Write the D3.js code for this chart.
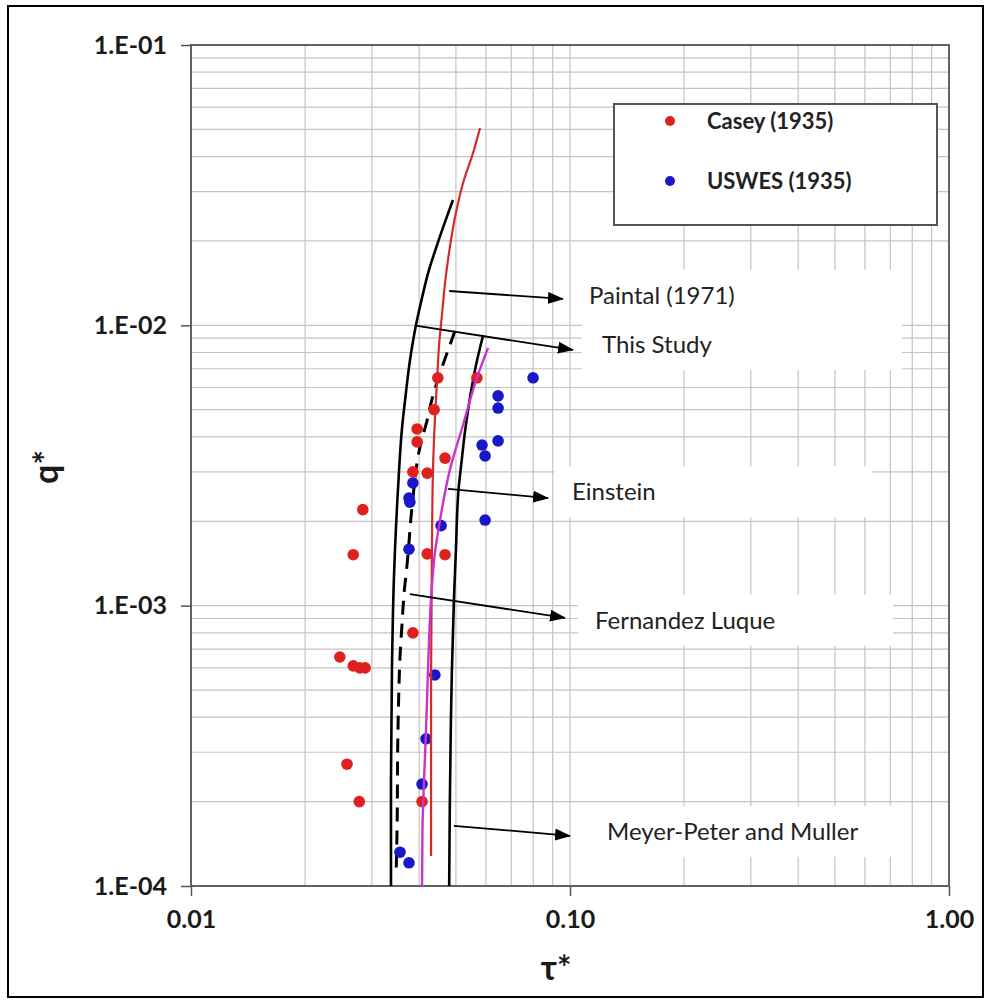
<!DOCTYPE html>
<html><head><meta charset="utf-8">
<script src="https://cdn.jsdelivr.net/npm/d3@7"></script>
<style>html,body{margin:0;padding:0;background:#fff;}svg{display:block;}</style>
</head><body>
<script>
// ---- data ----
const tauTicks = [0.01, 0.1, 1];
const tauTickLabels = ["0.01", "0.10", "1.00"];
const qTicks = [1e-4, 1e-3, 1e-2, 1e-1];
const qTickLabels = ["1.E-04", "1.E-03", "1.E-02", "1.E-01"];

const caseyTau = [0.0568,0.0448,0.0438,0.0395,0.0395,0.0468,0.0385,0.0420,0.0284,0.0268,0.0420,0.0468,0.0385,0.0247,0.0268,0.0279,0.0288,0.0258,0.0278,0.0407];
const caseyQ   = [6.5e-3,6.5e-3,5.0e-3,4.27e-3,3.84e-3,3.36e-3,3.0e-3,2.97e-3,2.2e-3,1.52e-3,1.53e-3,1.52e-3,8.0e-4,6.56e-4,6.1e-4,6.0e-4,6.0e-4,2.72e-4,2.0e-4,2.0e-4];

const uswesTau = [0.0799,0.0646,0.0646,0.0646,0.0586,0.0597,0.0597,0.0457,0.0385,0.0376,0.0378,0.0376,0.0440,0.0417,0.0407,0.0356,0.0376];
const uswesQ   = [6.5e-3,5.6e-3,5.07e-3,3.87e-3,3.74e-3,3.42e-3,2.02e-3,1.93e-3,2.74e-3,2.42e-3,2.34e-3,1.59e-3,5.66e-4,3.35e-4,2.31e-4,1.32e-4,1.21e-4];

const paintalTau = [0.0579,0.0553,0.0525,0.0500,0.0482,0.0469,0.0460,0.0451,0.0446,0.0441,0.0435,0.0432,0.0430,0.0430];
const paintalQ   = [0.0506,0.0406,0.0330,0.0252,0.0190,0.0145,0.0111,0.00837,0.00639,0.00487,0.00305,0.00146,4.61e-4,1.28e-4];

const studyTau = [0.0491,0.0468,0.0446,0.04246,0.04069,0.03923,0.03783,0.0368,0.0360,0.0354,0.0350,0.0343,0.0339,0.0337,0.0337];
const studyQ   = [0.0280,0.02338,0.01936,0.01576,0.01252,0.01003,0.00752,0.00555,0.00423,0.00305,0.00232,0.00124,5.9e-4,2.39e-4,1.0e-4];

const mpmTau = [0.0590,0.0565,0.0545,0.0529,0.0517,0.0508,0.0500,0.0494,0.0488,0.0485,0.0482,0.0480];
const mpmQ   = [0.00924,0.00722,0.00555,0.00423,0.00323,0.00259,0.00158,0.00105,5.9e-4,3.91e-4,2.03e-4,1.0e-4];

const flTau = [0.0497,0.0477,0.0454,0.0432,0.0420,0.0402,0.0383,0.0372,0.0365,0.0360,0.0356,0.0353,0.0351,0.0350,0.0348];
const flQ   = [0.00955,0.00817,0.00676,0.00542,0.0046,0.00368,0.00225,0.00142,0.00111,8.4e-4,6.56e-4,4.61e-4,3.06e-4,1.72e-4,1.16e-4];

const einTau = [0.0608,0.0568,0.0522,0.0482,0.0454,0.0440,0.0432,0.0427,0.0422,0.0417,0.0412,0.0408,0.0407];
const einQ   = [0.00831,0.00649,0.00441,0.00305,0.00202,0.00154,0.00117,8.89e-4,5.9e-4,3.6e-4,2.39e-4,1.58e-4,1.0e-4];

const annLabels  = ["Paintal (1971)", "This Study", "Einstein", "Fernandez Luque", "Meyer-Peter and Muller"];
const annFromTau = [0.0480, 0.0395, 0.0477, 0.0378, 0.0494];
const annFromQ   = [0.01326, 0.00995, 0.00261, 0.0011, 1.64e-4];
const annToTau   = [0.0958, 0.1018, 0.0875, 0.0970, 0.1000];
const annToQ     = [0.01242, 0.00817, 0.00242, 9.04e-4, 1.51e-4];

const seriesNames = ["Casey (1935)", "USWES (1935)"];

// ---- layout ----
const W = 986, H = 1001;
const M = {left: 191, right: 949, top: 45, bottom: 886};
const FONT = "Lato, 'Open Sans', sans-serif";
const svg = d3.select("body").append("svg").attr("width", W).attr("height", H);

svg.append("rect").attr("x", 8).attr("y", 6).attr("width", 975).attr("height", 991)
  .attr("fill", "#fff").attr("stroke", "#000").attr("stroke-width", 2);

const x = d3.scaleLog().domain([0.01, 1]).range([M.left, M.right]);
const y = d3.scaleLog().domain([1e-4, 1e-1]).range([M.bottom, M.top]);

const defs = svg.append("defs");
defs.append("marker").attr("id", "arr").attr("markerUnits", "userSpaceOnUse")
  .attr("markerWidth", 16).attr("markerHeight", 12).attr("refX", 15).attr("refY", 6)
  .attr("orient", "auto")
  .append("path").attr("d", "M0,0 L16,6 L0,12 Z").attr("fill", "#000");

// grid
const g = svg.append("g");
g.selectAll("line.vx").data(x.ticks()).join("line")
  .attr("x1", d => x(d)).attr("x2", d => x(d)).attr("y1", M.top).attr("y2", M.bottom)
  .attr("stroke", "#c4c4c4").attr("stroke-width", 1.2);
g.selectAll("line.hy").data(y.ticks()).join("line")
  .attr("y1", d => y(d)).attr("y2", d => y(d)).attr("x1", M.left).attr("x2", M.right)
  .attr("stroke", "#c4c4c4").attr("stroke-width", 1.2);

// axes
const xAxis = d3.axisBottom(x).tickValues(tauTicks).tickFormat((d, i) => tauTickLabels[i]).tickSize(10).tickPadding(14);
const yAxis = d3.axisLeft(y).tickValues(qTicks).tickFormat((d, i) => qTickLabels[i]).tickSize(10).tickPadding(14);
const gx = svg.append("g").attr("transform", `translate(0,${M.bottom})`).call(xAxis);
const gy = svg.append("g").attr("transform", `translate(${M.left},0)`).call(yAxis);
[gx, gy].forEach(a => {
  a.select(".domain").remove();
  a.selectAll(".tick line").attr("stroke", "#555").attr("stroke-width", 1.5);
  a.selectAll("text").attr("font-family", FONT)
    .attr("font-weight", 700).attr("font-size", 25).attr("fill", "#1a1a1a");
});
gx.selectAll("text").attr("dy", "0.71em");
svg.append("rect").attr("x", M.left).attr("y", M.top)
  .attr("width", M.right - M.left).attr("height", M.bottom - M.top)
  .attr("fill", "none").attr("stroke", "#555").attr("stroke-width", 1.8);

// axis titles
svg.append("text").attr("x", 556).attr("y", 980).attr("text-anchor", "middle")
  .attr("font-family", FONT).attr("font-weight", 700)
  .attr("font-size", 34).attr("fill", "#1a1a1a").text("τ*");
svg.append("text").attr("transform", "translate(58,467) rotate(-90)").attr("text-anchor", "middle")
  .attr("font-family", FONT).attr("font-weight", 700)
  .attr("font-size", 34).attr("fill", "#1a1a1a").text("q*");

// curves
const line = d3.line().x(d => x(d[0])).y(d => y(d[1])).curve(d3.curveMonotoneY);
const zip = (a, b) => a.map((v, i) => [v, b[i]]);
const curves = [
  {pts: zip(studyTau, studyQ), color: "#000", w: 2.6, dash: null},
  {pts: zip(mpmTau, mpmQ), color: "#000", w: 2.6, dash: null},
  {pts: zip(flTau, flQ), color: "#000", w: 3, dash: "14,9"},
];
const cg = svg.append("g");
curves.forEach(c => {
  cg.append("path").attr("d", line(c.pts)).attr("fill", "none")
    .attr("stroke", c.color).attr("stroke-width", c.w).attr("stroke-dasharray", c.dash);
});

// points
const pg = svg.append("g");
pg.selectAll("circle.casey").data(zip(caseyTau, caseyQ)).join("circle")
  .attr("cx", d => x(d[0])).attr("cy", d => y(d[1])).attr("r", 5.8).attr("fill", "#e0201e");
pg.selectAll("circle.uswes").data(zip(uswesTau, uswesQ)).join("circle")
  .attr("cx", d => x(d[0])).attr("cy", d => y(d[1])).attr("r", 5.8).attr("fill", "#1818c8");

// colored curves
svg.append("path").attr("d", line(zip(paintalTau, paintalQ))).attr("fill", "none")
  .attr("stroke", "#d42a2a").attr("stroke-width", 2.2);
svg.append("path").attr("d", line(zip(einTau, einQ))).attr("fill", "none")
  .attr("stroke", "#cc33cc").attr("stroke-width", 2.4);

// annotations
const ag = svg.append("g");
annLabels.forEach((lab, i) => {
  const x0 = x(annFromTau[i]), y0 = y(annFromQ[i]);
  const x1 = x(annToTau[i]), y1 = y(annToQ[i]);
  ag.append("line").attr("x1", x0).attr("y1", y0).attr("x2", x1).attr("y2", y1)
    .attr("stroke", "#000").attr("stroke-width", 1.8).attr("marker-end", "url(#arr)");
});
const textOff = [26, 29, 24, 30, 37];
const boxOff = [9, 9, 7, 13, 20];
const boxW = [321, 320, 317, 315, 305];
const yOff = [-3, -5, -6, 3, -4];
annLabels.forEach((lab, i) => {
  const x1 = x(annToTau[i]), y1 = y(annToQ[i]) + yOff[i];
  ag.append("rect").attr("x", x1 + boxOff[i]).attr("y", y1 - 26).attr("width", boxW[i]).attr("height", 51)
    .attr("fill", "#fff");
});
annLabels.forEach((lab, i) => {
  const x1 = x(annToTau[i]), y1 = y(annToQ[i]) + yOff[i];
  ag.append("text").attr("x", x1 + textOff[i]).attr("y", y1).attr("dy", "0.35em")
    .attr("font-family", FONT).attr("font-size", 24)
    .attr("fill", "#222").text(lab);
});

// legend
const lg = svg.append("g");
lg.append("rect").attr("x", 614).attr("y", 104).attr("width", 323).attr("height", 121)
  .attr("fill", "#fff").attr("stroke", "#555").attr("stroke-width", 2);
const legColors = ["#e0201e", "#1818c8"];
seriesNames.forEach((s, i) => {
  const cy = 121 + i * 60;
  lg.append("circle").attr("cx", 670).attr("cy", cy).attr("r", 5).attr("fill", legColors[i]);
  lg.append("text").attr("x", 707).attr("y", cy).attr("dy", "0.35em")
    .attr("font-family", FONT).attr("font-weight", 700)
    .attr("font-size", 22).attr("fill", "#222").text(s);
});
</script>
</body></html>
